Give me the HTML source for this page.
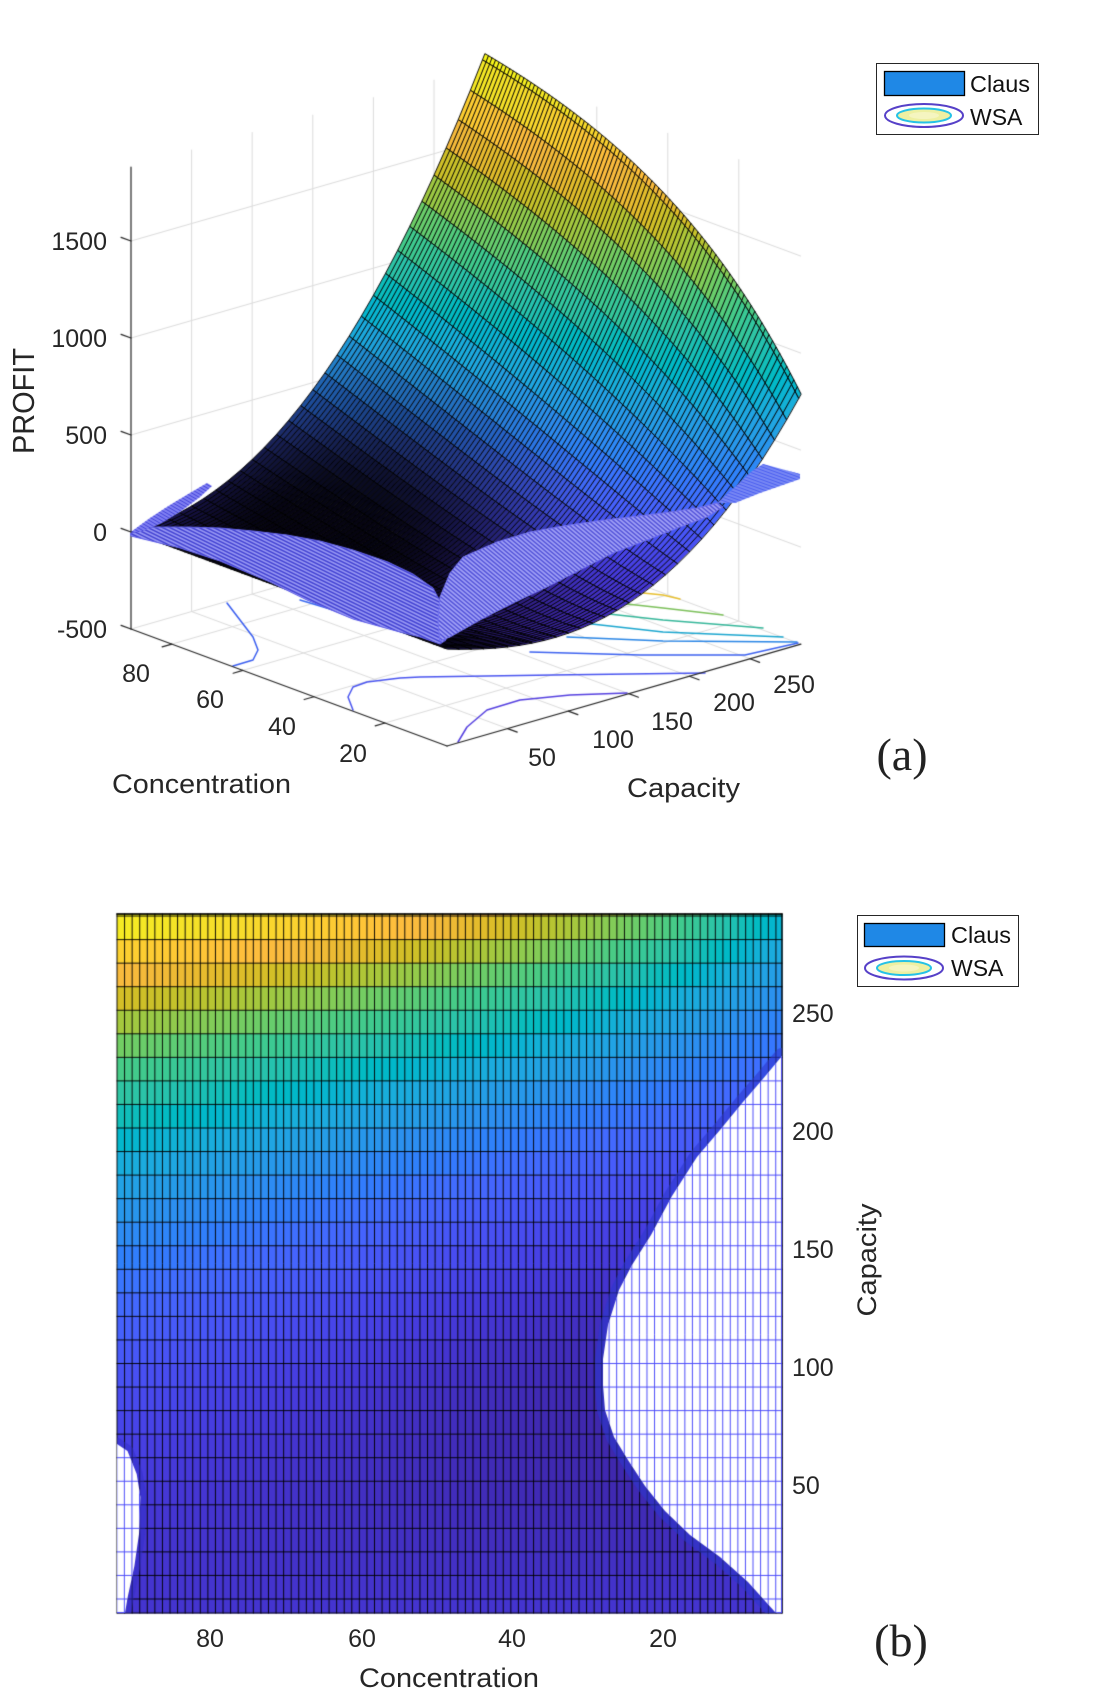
<!DOCTYPE html>
<html><head><meta charset="utf-8">
<style>
html,body{margin:0;padding:0;background:#fff;}
#wrap{position:relative;width:1120px;height:1700px;overflow:hidden;background:#fff;}
canvas{position:absolute;left:0;top:0;}
svg{position:absolute;left:0;top:0;}
text{font-family:"Liberation Sans",Arial,sans-serif;fill:#262626;}
.tk{font-size:25px;}
.lb{font-size:27px;}
.lg{font-size:23px;fill:#111;}
.pn{font-family:"Liberation Serif","Times New Roman",serif;font-size:46px;fill:#222;}
</style></head><body>
<div id="wrap">
<canvas id="cv" width="1120" height="1700"></canvas>
<svg width="1120" height="1700" viewBox="0 0 1120 1700">
  <text class="tk" x="107" y="250" text-anchor="end">1500</text>
  <text class="tk" x="107" y="347" text-anchor="end">1000</text>
  <text class="tk" x="107" y="444" text-anchor="end">500</text>
  <text class="tk" x="107" y="541" text-anchor="end">0</text>
  <text class="tk" x="107" y="638" text-anchor="end">-500</text>
  <text transform="translate(34,401) rotate(-90)" text-anchor="middle" textLength="106" lengthAdjust="spacingAndGlyphs" style="font-size:31px">PROFIT</text>
  <text class="tk" x="136" y="682" text-anchor="middle">80</text>
  <text class="tk" x="210" y="708" text-anchor="middle">60</text>
  <text class="tk" x="282" y="735" text-anchor="middle">40</text>
  <text class="tk" x="353" y="762" text-anchor="middle">20</text>
  <text class="lb" x="112" y="793" textLength="179" lengthAdjust="spacingAndGlyphs">Concentration</text>
  <text class="tk" x="542" y="766" text-anchor="middle">50</text>
  <text class="tk" x="613" y="748" text-anchor="middle">100</text>
  <text class="tk" x="672" y="730" text-anchor="middle">150</text>
  <text class="tk" x="734" y="711" text-anchor="middle">200</text>
  <text class="tk" x="794" y="693" text-anchor="middle">250</text>
  <text class="lb" x="627" y="797" textLength="113" lengthAdjust="spacingAndGlyphs">Capacity</text>
  <text class="pn" x="902" y="770" text-anchor="middle">(a)</text>

  <rect x="876.5" y="63.5" width="162" height="71" fill="#fff" stroke="#262626" stroke-width="1"/>
  <rect x="884.5" y="71.5" width="80" height="24" fill="#1f88e6" stroke="#000" stroke-width="1.3"/>
  <ellipse cx="924" cy="115.5" rx="39" ry="11.5" fill="#fff" stroke="#5640c8" stroke-width="2"/>
  <ellipse cx="924" cy="115.5" rx="27" ry="7" fill="#eef0a2" stroke="#25c2e6" stroke-width="2"/>
  <ellipse cx="924" cy="115.5" rx="15" ry="3.5" fill="#f5f5c0"/>
  <text class="lg" x="970" y="92" textLength="60" lengthAdjust="spacingAndGlyphs">Claus</text>
  <text class="lg" x="970" y="125">WSA</text>

  <text class="tk" x="210" y="1647" text-anchor="middle">80</text>
  <text class="tk" x="362" y="1647" text-anchor="middle">60</text>
  <text class="tk" x="512" y="1647" text-anchor="middle">40</text>
  <text class="tk" x="663" y="1647" text-anchor="middle">20</text>
  <text class="lb" x="359" y="1687" textLength="180" lengthAdjust="spacingAndGlyphs">Concentration</text>
  <text class="tk" x="792" y="1022">250</text>
  <text class="tk" x="792" y="1140">200</text>
  <text class="tk" x="792" y="1258">150</text>
  <text class="tk" x="792" y="1376">100</text>
  <text class="tk" x="792" y="1494">50</text>
  <text class="lb" transform="translate(876,1260) rotate(-90)" text-anchor="middle" textLength="113" lengthAdjust="spacingAndGlyphs">Capacity</text>
  <text class="pn" x="901" y="1656" text-anchor="middle">(b)</text>

  <rect x="857.5" y="915.5" width="161" height="71" fill="#fff" stroke="#262626" stroke-width="1"/>
  <rect x="864.5" y="923.5" width="80" height="23" fill="#1f88e6" stroke="#000" stroke-width="1.3"/>
  <ellipse cx="904" cy="968" rx="39" ry="11.5" fill="#fff" stroke="#5640c8" stroke-width="2"/>
  <ellipse cx="904" cy="968" rx="27" ry="7" fill="#eef0a2" stroke="#25c2e6" stroke-width="2"/>
  <ellipse cx="904" cy="968" rx="15" ry="3.5" fill="#f5f5c0"/>
  <text class="lg" x="951" y="943" textLength="60" lengthAdjust="spacingAndGlyphs">Claus</text>
  <text class="lg" x="951" y="976">WSA</text>
</svg>
</div>
<script>
(function(){
const PAR=[[0.2422,0.1504,0.6603],[0.2504,0.1650,0.7076],[0.2578,0.1818,0.7511],[0.2647,0.1978,0.7952],[0.2706,0.2147,0.8364],[0.2751,0.2342,0.8710],[0.2783,0.2559,0.8991],[0.2803,0.2782,0.9221],[0.2813,0.3006,0.9414],[0.2810,0.3228,0.9579],[0.2795,0.3447,0.9717],[0.2760,0.3667,0.9829],[0.2699,0.3892,0.9906],[0.2602,0.4123,0.9952],[0.2440,0.4358,0.9988],[0.2206,0.4603,0.9973],[0.1963,0.4847,0.9892],[0.1834,0.5074,0.9798],[0.1786,0.5289,0.9682],[0.1764,0.5499,0.9520],[0.1687,0.5703,0.9359],[0.1540,0.5902,0.9218],[0.1460,0.6091,0.9079],[0.1380,0.6276,0.8973],[0.1248,0.6459,0.8883],[0.1113,0.6635,0.8763],[0.0952,0.6798,0.8598],[0.0689,0.6948,0.8394],[0.0297,0.7082,0.8163],[0.0036,0.7203,0.7917],[0.0067,0.7312,0.7660],[0.0433,0.7411,0.7394],[0.0964,0.7500,0.7120],[0.1408,0.7584,0.6842],[0.1717,0.7670,0.6554],[0.1938,0.7758,0.6251],[0.2161,0.7843,0.5923],[0.2470,0.7918,0.5567],[0.2906,0.7973,0.5188],[0.3406,0.8008,0.4789],[0.3909,0.8029,0.4354],[0.4456,0.8024,0.3909],[0.5044,0.7993,0.3480],[0.5616,0.7942,0.3045],[0.6174,0.7876,0.2612],[0.6720,0.7793,0.2227],[0.7242,0.7698,0.1910],[0.7738,0.7598,0.1646],[0.8203,0.7498,0.1535],[0.8634,0.7406,0.1596],[0.9035,0.7330,0.1774],[0.9393,0.7288,0.2100],[0.9728,0.7298,0.2394],[0.9956,0.7434,0.2371],[0.9970,0.7659,0.2199],[0.9952,0.7893,0.2028],[0.9892,0.8136,0.1885],[0.9786,0.8386,0.1766],[0.9676,0.8639,0.1643],[0.9610,0.8890,0.1537],[0.9597,0.9135,0.1423],[0.9628,0.9373,0.1265],[0.9691,0.9606,0.1064],[0.9769,0.9839,0.0805]];
function parulaRGB(t){t=Math.max(0,Math.min(1,t));const f=t*63,i=Math.floor(f),j=Math.min(63,i+1),a=f-i;
 return [PAR[i][0]*(1-a)+PAR[j][0]*a,PAR[i][1]*(1-a)+PAR[j][1]*a,PAR[i][2]*(1-a)+PAR[j][2]*a];}
function rgb(c,k){return 'rgb('+Math.round(c[0]*255*k)+','+Math.round(c[1]*255*k)+','+Math.round(c[2]*255*k)+')';}
function parula(t){return rgb(parulaRGB(t),1);}
const cA=91.5,cB=2.5,QM=292;
function Z290(c){return 2095-1397*Math.exp(-c/45);}
function claus(c,q){const s=Math.max(0,Math.min(1,(cA-c)/(cA-cB)));const u=Math.max(0,q)/290;
 return Z290(c)*((1-s)*Math.pow(u,2.15)+s*(1.708*Math.pow(u,2.5)-0.711*u));}
const ZS=0.194;
function proj(c,q,z){const a=cA-c;return [131+a*3.551+q*1.212, 629+a*1.315-q*0.349-(z+500)*ZS];}
function depth(c,q,z){const a=cA-c;return -a*3.806+q*1.010-(z+500)*0.067;}
const cv=document.getElementById('cv');const ctx=cv.getContext('2d');
ctx.fillStyle='#fff';ctx.fillRect(0,0,1120,1700);
function line(p1,p2,col,w){ctx.beginPath();ctx.moveTo(p1[0],p1[1]);ctx.lineTo(p2[0],p2[1]);ctx.strokeStyle=col;ctx.lineWidth=w;ctx.stroke();}
function poly(pts,col,w){ctx.beginPath();pts.forEach((p,i)=>i?ctx.lineTo(p[0],p[1]):ctx.moveTo(p[0],p[1]));ctx.strokeStyle=col;ctx.lineWidth=w;ctx.lineJoin='round';ctx.lineCap='round';ctx.stroke();}
const ZT=1881;
const GC='#dcdcdc';
const zt=[-500,0,500,1000,1500];
zt.forEach(z=>{line(proj(cA,0,z),proj(cA,QM,z),GC,1);line(proj(cA,QM,z),proj(cB,QM,z),GC,1);});
[50,100,150,200,250].forEach(q=>{line(proj(cA,q,-500),proj(cA,q,ZT),GC,1);line(proj(cA,q,-500),proj(cB,q,-500),GC,1);});
[80,60,40,20].forEach(c=>{line(proj(c,QM,-500),proj(c,QM,ZT),GC,1);line(proj(c,0,-500),proj(c,QM,-500),GC,1);});
const CL=[
 ['#e8c030',[[643,593],[663,595],[680,599]]],
 ['#7cc05a',[[618,603],[663,608],[723,615]]],
 ['#35b79a',[[600,613],[663,620],[763,628]]],
 ['#1aa6cf',[[583,623],[663,632],[783,637]]],
 ['#2a86e6',[[567,637],[663,641],[797,642]]],
 ['#3d62f0',[[530,652],[640,655],[745,655],[798,643]]],
 ['#3a5ef0',[[227,603],[240,620],[253,637],[258,650],[253,660],[233,666]]],
 ['#3a6af0',[[300,600],[340,612],[380,625],[420,638]]],
 ['#4a55f0',[[353,710],[348,697],[353,687],[367,682],[400,678],[420,677],[553,675],[705,673]]],
 ['#5540e0',[[458,742],[467,727],[487,710],[520,700],[570,695],[627,693]]]
];
CL.forEach(l=>poly(l[1],l[0],1.5));
const AX='#262626';
line(proj(cA,0,-500),proj(cA,0,ZT),AX,1.2);
line(proj(cA,0,-500),proj(cB,0,-500),AX,1.2);
line(proj(cB,0,-500),proj(cB,QM,-500),AX,1.2);
zt.forEach(z=>line(proj(cA,0,z),proj(cA+2.8,0,z),AX,1.2));
[80,60,40,20].forEach(c=>line(proj(c,0,-500),proj(c,-8,-500),AX,1.2));
[50,100,150,200,250].forEach(q=>line(proj(cB,q,-500),proj(cB-2.7,q,-500),AX,1.2));
// Claus surface
const cs=[];for(let c=cB;c<=cA+1e-9;c+=1)cs.push(c);
const qs=[];for(let q=0;q<=290;q+=10)qs.push(q);qs.push(QM);
let zmin=Infinity,zmax=-Infinity;const Z=[];
for(let i=0;i<cs.length;i++){Z.push([]);for(let j=0;j<qs.length;j++){const z=claus(cs[i],qs[j]);Z[i].push(z);if(z<zmin)zmin=z;if(z>zmax)zmax=z;}}
function sstep(e0,e1,x){let t=(x-e0)/(e1-e0);t=Math.max(0,Math.min(1,t));return t*t*(3-2*t);}
const quads=[];
for(let i=0;i<cs.length-1;i++)for(let j=0;j<qs.length-1;j++){
 const cc=[[i,j],[i+1,j],[i+1,j+1],[i,j+1]];let d=0,zs=0,mx=0,my=0;const pts=[];
 cc.forEach(k=>{const c=cs[k[0]],q=qs[k[1]],z=Z[k[0]][k[1]];const p=proj(c,q,z);pts.push(p);mx+=p[0]/4;my+=p[1]/4;d+=depth(c,q,z);zs+=z;});
 const dd=Math.hypot((mx-320)/1.35,my-545);const dark=1-sstep(40,230,dd);
 quads.push({p:pts,d:d/4,t:(zs/4-zmin)/(zmax-zmin),k:1-0.92*dark});}
quads.sort((a,b)=>b.d-a.d);
ctx.lineJoin='miter';
quads.forEach(o=>{ctx.beginPath();ctx.moveTo(o.p[0][0],o.p[0][1]);for(let k=1;k<4;k++)ctx.lineTo(o.p[k][0],o.p[k][1]);ctx.closePath();
 ctx.fillStyle=rgb(parulaRGB(o.t),o.k);ctx.fill();ctx.strokeStyle='rgba(0,0,0,0.95)';ctx.lineWidth=1.0;ctx.stroke();});
function hatch(pts,base,lc,sp,angDeg,lw,edge){
 ctx.save();ctx.beginPath();pts.forEach((p,i)=>i?ctx.lineTo(p[0],p[1]):ctx.moveTo(p[0],p[1]));ctx.closePath();
 ctx.fillStyle=base;ctx.fill();ctx.clip();
 let x0=1e9,y0=1e9,x1=-1e9,y1=-1e9;pts.forEach(p=>{x0=Math.min(x0,p[0]);y0=Math.min(y0,p[1]);x1=Math.max(x1,p[0]);y1=Math.max(y1,p[1]);});
 const a=angDeg*Math.PI/180,dx=Math.cos(a),dy=Math.sin(a),nx=-dy,ny=dx,cx=(x0+x1)/2,cy=(y0+y1)/2,R=Math.hypot(x1-x0,y1-y0);
 ctx.beginPath();for(let t=-R;t<=R;t+=sp){const px=cx+nx*t,py=cy+ny*t;ctx.moveTo(px-dx*R,py-dy*R);ctx.lineTo(px+dx*R,py+dy*R);}
 ctx.strokeStyle=lc;ctx.lineWidth=lw;ctx.stroke();ctx.restore();
 if(edge){ctx.beginPath();pts.forEach((p,i)=>i?ctx.lineTo(p[0],p[1]):ctx.moveTo(p[0],p[1]));ctx.closePath();ctx.strokeStyle=edge;ctx.lineWidth=1;ctx.stroke();}
}
const lav=[[131,533],[153,527],[187,527],[220,528],[253,531],[287,535],[320,541],[353,550],[388,562],[413,574],[433,588],[442,605],[446,640],
 [440,644],[420,637],[400,632],[353,619],[307,600],[270,582],[220,561],[180,548],[131,536]];
hatch(lav,'#9898f4','#4242d2',3.2,26,1.5,'#6060e8');
const fringe=[[131,532],[150,518],[170,505],[190,493],[207,483],[212,486],[200,497],[180,512],[160,524],[140,532]];
hatch(fringe,'#8080f2','#4040d8',3,30,1,null);
const lip=[[438,620],[440,597],[450,573],[463,557],[497,542],[530,532],[563,526],[597,521],[630,517],[663,513],[697,508],[717,503],
 [723,507],[707,517],[680,527],[647,540],[613,553],[580,570],[547,587],[513,603],[480,620],[450,637],[440,641]];
hatch(lip,'#a0a0f6','#5050d8',3.2,40,1.4,'#7070f0');
const sheet=[[717,503],[735,487],[752,471],[763,464],[800,474],[800,479],[760,493],[735,503]];
hatch(sheet,'#7888f4','#4a5ef0',3,20,1,null);

// ---------- (b) ----------
const bx0=117,bx1=782,by0=914,by1=1613,bcL=92.3,colW=7.574;
const rows=[];for(let k=0;k<30;k++)rows.push(1599-23.55*k);rows.sort((a,b)=>a-b);
const bands=[by0].concat(rows.filter(y=>y>by0+0.5)).concat([by1]);
const ncol=Math.ceil((bx1-bx0)/colW);
for(let i=0;i<ncol;i++){const xa=bx0+i*colW,xb=Math.min(bx1,xa+colW);const c=bcL-((xa+xb)/2-bx0)/colW;
 for(let k=0;k<bands.length-1;k++){const ya=bands[k],yb=bands[k+1];const q=(1602-(ya+yb)/2)/2.36;
  const z=claus(Math.max(cB,Math.min(cA,c)),q);ctx.fillStyle=parula((z-zmin)/(zmax-zmin));ctx.fillRect(xa,ya,xb-xa+0.5,yb-ya+0.5);}}
ctx.strokeStyle='rgba(0,0,0,0.92)';ctx.lineWidth=1;ctx.beginPath();
for(let i=0;i<=ncol;i++){const x=Math.min(bx1,bx0+i*colW);ctx.moveTo(x,by0);ctx.lineTo(x,by1);}
ctx.moveTo(bx1,by0);ctx.lineTo(bx1,by1);
bands.forEach(y=>{ctx.moveTo(bx0,y);ctx.lineTo(bx1,y);});ctx.stroke();
ctx.lineWidth=1.6;ctx.beginPath();ctx.moveTo(bx0,by0);ctx.lineTo(bx1,by0);ctx.stroke();
const RB=[[782,1056],[762,1080],[743,1102],[720,1130],[697,1157],[672,1196],[651,1235],[632,1265],[619,1290],[608,1325],[603,1359],[603,1385],[605,1410],[614,1437],[628,1460],[645,1486],[665,1511],[690,1535],[720,1557],[748,1582],[775,1612]];
const LB=[[117,1444],[127.5,1451],[136.7,1474],[140.4,1497],[139,1534],[134.4,1566],[127.5,1598],[125,1613]];
ctx.save();ctx.beginPath();ctx.rect(bx0,by0,bx1-bx0,by1-by0);ctx.clip();
poly(RB,'rgba(45,55,205,0.6)',16);poly(LB,'rgba(50,45,200,0.5)',12);
function whiteReg(pts){ctx.save();ctx.beginPath();pts.forEach((p,i)=>i?ctx.lineTo(p[0],p[1]):ctx.moveTo(p[0],p[1]));ctx.closePath();
 ctx.fillStyle='#fff';ctx.fill();ctx.clip();ctx.strokeStyle='rgb(78,78,250)';ctx.lineWidth=1;ctx.beginPath();
 for(let i=0;i<=ncol;i++){const x=Math.min(bx1,bx0+i*colW)-0.2;ctx.moveTo(x,by0);ctx.lineTo(x,by1);}
 ctx.moveTo(bx1-0.5,by0);ctx.lineTo(bx1-0.5,by1);
 bands.forEach(y=>{ctx.moveTo(bx0,y);ctx.lineTo(bx1,y);});ctx.moveTo(bx0,by1-0.5);ctx.lineTo(bx1,by1-0.5);ctx.stroke();ctx.restore();}
whiteReg(RB.concat([[784,1615],[784,1056]]));
whiteReg(LB.concat([[115,1615],[115,1444]]));
ctx.restore();
})();
</script>
</body></html>
